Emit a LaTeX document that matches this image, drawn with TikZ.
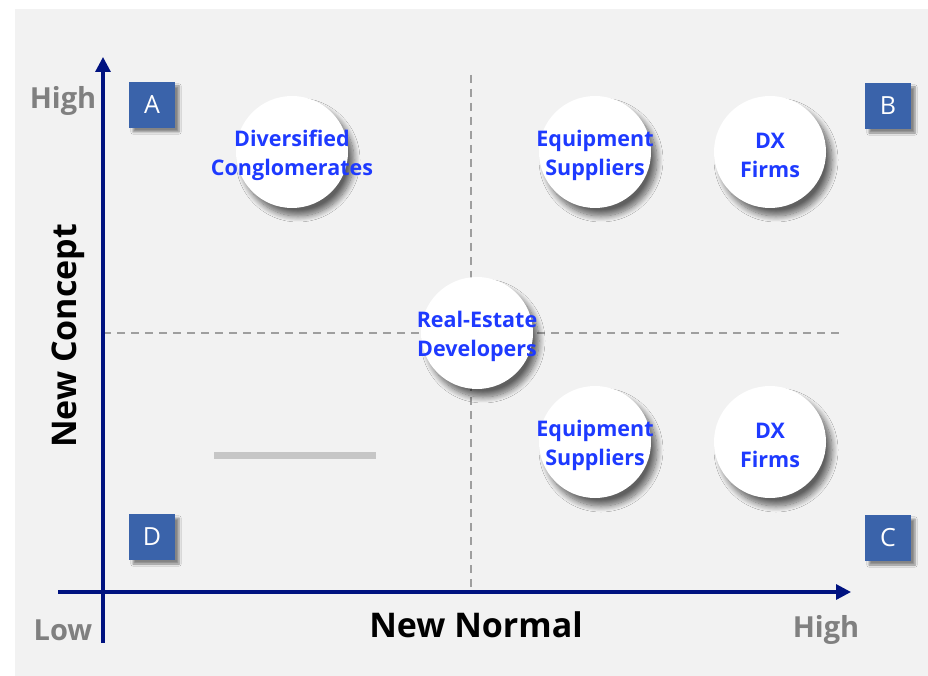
\documentclass[tikz,border=0pt]{standalone}
\usepackage{fontspec}
\setmainfont{Open Sans}
\usetikzlibrary{arrows.meta,shadows.blur}

\definecolor{navy}{RGB}{0,18,128}
\definecolor{tagblue}{RGB}{58,99,170}
\definecolor{firmblue}{RGB}{30,58,255}
\definecolor{panel}{RGB}{242,242,242}

\tikzset{
  quadbox/.style={fill=tagblue, text=white, minimum size=46pt, inner sep=0pt,
    font=\fontsize{25}{25}\selectfont,
    blur shadow={shadow xshift=4pt, shadow yshift=-4pt, shadow blur steps=6, shadow opacity=45}},
  firm/.style={circle, fill=white, minimum size=112pt, inner sep=0pt,
    label={[align=center, yshift=-3pt, text=firmblue, font=\bfseries\fontsize{21.5}{29}\selectfont]center:#1},
    blur shadow={shadow xshift=6pt, shadow yshift=-8pt, shadow blur radius=6pt,
      shadow blur steps=12, shadow opacity=60}},
  levellbl/.style={text=gray, font=\bfseries\fontsize{29}{29}\selectfont},
  axisttl/.style={font=\bfseries\fontsize{34}{34}\selectfont}
}

\begin{document}
\begin{tikzpicture}[x=1pt, y=-1pt]
\useasboundingbox (0,0) rectangle (928,676);
\fill[panel] (15,9) rectangle (928,676);

% quadrant split
\coordinate (vtop) at (471,75);
\coordinate (vbot) at (471,590);
\coordinate (hleft) at (103,333);
\coordinate (hright) at (843,333);
\draw[gray!75, line width=1.6pt, dash pattern=on 8pt off 6pt] (vtop) -- (vbot);
\draw[gray!75, line width=1.6pt, dash pattern=on 8pt off 6pt] (hleft) -- (hright);

% axes
\coordinate (ytip) at (103,57);
\coordinate (yend) at (103,643);
\coordinate (xtip) at (851,592);
\coordinate (xend) at (58,592);
\draw[navy, line width=3.2pt, -{Triangle[length=15pt,width=15pt]}] (yend) -- (ytip);
\draw[navy, line width=3.2pt, -{Triangle[length=15pt,width=15pt]}] (xend) -- (xtip);

\node[levellbl] (yhigh) at (63,101) {High};
\node[levellbl] (xlow) at (63,630) {Low};
\node[levellbl] (xhigh) at (826,630) {High};
\node[axisttl] (xttl) at (476,625) {New Normal};
\node[axisttl, rotate=90] (yttl) at (68,336) {New Concept};

% quadrant tags
\node[quadbox] (qa) at (152,105) {A};
\node[quadbox] (qb) at (888,106) {B};
\node[quadbox] (qc) at (888,538) {C};
\node[quadbox] (qd) at (152,537) {D};

% players
\node[firm={Diversified\\Conglomerates}] (divcong) at (292,152) {};
\node[firm={Equipment\\Suppliers}] (equiptop) at (595,152) {};
\node[firm={DX\\Firms}] (dxtop) at (770,152) {};
\node[firm={Real-Estate\\Developers}] (realest) at (477,333) {};
\node[firm={Equipment\\Suppliers}] (equipbot) at (595,442) {};
\node[firm={DX\\Firms}] (dxbot) at (770,442) {};

\coordinate (barl) at (214,455);
\coordinate (barr) at (376,455);
\draw[gray!45, line width=7pt] (barl) -- (barr);
\end{tikzpicture}
\end{document}
